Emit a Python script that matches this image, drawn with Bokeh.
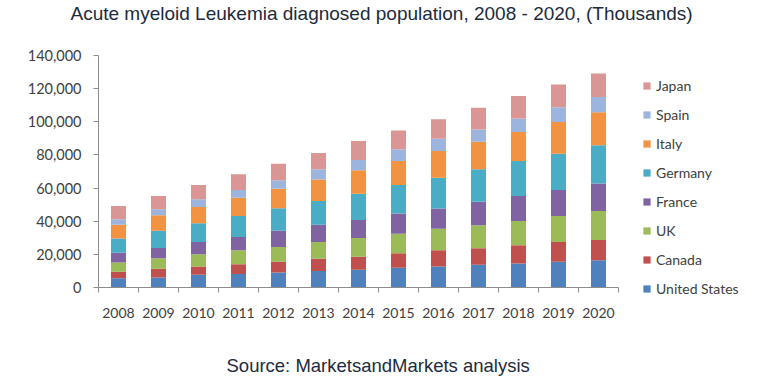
from bokeh.plotting import figure
from bokeh.models import (ColumnDataSource, FixedTicker, NumeralTickFormatter,
                          Legend, LegendItem, Title, Range1d)
from bokeh.embed import file_html
from bokeh.resources import INLINE

years = ["2008", "2009", "2010", "2011", "2012", "2013", "2014",
         "2015", "2016", "2017", "2018", "2019", "2020"]

united_states = [5600, 6000, 7700, 8100, 9000, 9900, 10700, 11900, 12700, 13700, 14500, 15500, 16500]
canada        = [3900, 5300, 5000, 6000, 6500, 7400, 7800, 8800, 9800, 10000, 11000, 12000, 12200]
uk            = [5600, 6400, 7400, 8400, 9000, 10200, 11300, 11800, 13000, 13900, 14700, 15700, 17500]
france        = [5800, 6200, 7400, 8000, 9700, 10300, 11000, 12100, 12100, 14200, 15000, 15700, 16500]
germany       = [8700, 10300, 11300, 12700, 13600, 14400, 15800, 17300, 18700, 19500, 21100, 21800, 23100]
italy         = [8200, 9400, 9800, 11000, 11800, 12900, 14100, 14400, 16100, 16700, 17500, 19100, 20000]
spain         = [3400, 3600, 4700, 4600, 5100, 6200, 6200, 7100, 7400, 7400, 8200, 9000, 9100]
japan         = [8000, 8000, 8600, 9500, 10000, 9800, 11500, 11400, 11800, 13000, 13500, 13700, 14300]

series_names = ["United States", "Canada", "UK", "France", "Germany", "Italy", "Spain", "Japan"]
series_values = [united_states, canada, uk, france, germany, italy, spain, japan]
colors = ["#4F81BD", "#C0504D", "#9BBB59", "#8064A2", "#4BACC6", "#F39240", "#9DB5DC", "#D99694"]

y_ticks = [0, 20000, 40000, 60000, 80000, 100000, 120000, 140000]

title_text = "Acute myeloid Leukemia diagnosed population, 2008 - 2020, (Thousands)"
source_text = "Source: MarketsandMarkets analysis"

xpos = list(range(len(years)))
data = {"x": xpos}
for name, vals in zip(series_names, series_values):
    data[name] = vals
source = ColumnDataSource(data)

p = figure(frame_width=520, frame_height=232, output_backend="svg", toolbar_location=None,
           x_range=Range1d(-0.5, len(years) - 0.5), y_range=Range1d(0, 140000),
           min_border_left=98, min_border_right=145, min_border_top=55,
           min_border_bottom=90)
p.outline_line_color = None
p.xgrid.grid_line_color = None
p.ygrid.grid_line_color = None

renderers = p.vbar_stack(series_names, x="x", width=0.375, source=source,
                         color=colors, line_color=None)

# x axis: labels at centers, tick marks at category boundaries
xa = p.xaxis[0]
xa.ticker = FixedTicker(ticks=xpos, minor_ticks=[i - 0.5 for i in range(len(years) + 1)])
xa.major_label_overrides = {i: y for i, y in enumerate(years)}
xa.major_tick_line_color = None
xa.minor_tick_in = 0
xa.minor_tick_out = 5
xa.minor_tick_line_color = "#8c8c8c"
xa.axis_line_color = "#8c8c8c"
xa.major_label_standoff = 14
xa.major_label_text_font = "Lato"
xa.major_label_text_font_size = "14px"
xa.major_label_text_color = "#404040"

ya = p.yaxis[0]
ya.ticker = FixedTicker(ticks=y_ticks)
ya.formatter = NumeralTickFormatter(format="0,0")
ya.minor_tick_line_color = None
ya.major_tick_in = 0
ya.major_tick_out = 5
ya.major_tick_line_color = "#8c8c8c"
ya.axis_line_color = "#8c8c8c"
ya.major_label_standoff = 12
ya.major_label_text_font = "Lato"
ya.major_label_text_font_size = "14.5px"
ya.major_label_text_color = "#404040"

items = [LegendItem(label=n, renderers=[r]) for n, r in zip(series_names, renderers)]
legend = Legend(items=list(reversed(items)), location=(24, -11),
                padding=0, margin=0, spacing=9, label_height=20,
                glyph_height=9, glyph_width=9, label_standoff=5,
                label_text_font="Lato", label_text_font_size="14px",
                label_text_color="#404040",
                border_line_color=None, background_fill_alpha=0)
p.add_layout(legend, "right")

p.title.text = title_text
p.title.align = "left"
p.title.offset = -28
p.title.standoff = 0
p.title.text_font = "Liberation Sans"
p.title.text_font_size = "19px"
p.title.text_font_style = "normal"
p.title.text_color = "#1c2b3d"

src = Title(text=source_text, align="left", offset=128, standoff=0,
            text_font="Liberation Sans", text_font_size="18.5px",
            text_font_style="normal", text_color="#1c2b3d")
p.add_layout(src, "below")

try:
    p.title.padding = dict(left=0, right=0, top=0, bottom=32)
    src.padding = dict(left=0, right=0, top=32, bottom=0)
except Exception:
    p.title.standoff = 30
    src.standoff = 30

open("out.html", "w").write(file_html(p, INLINE))
